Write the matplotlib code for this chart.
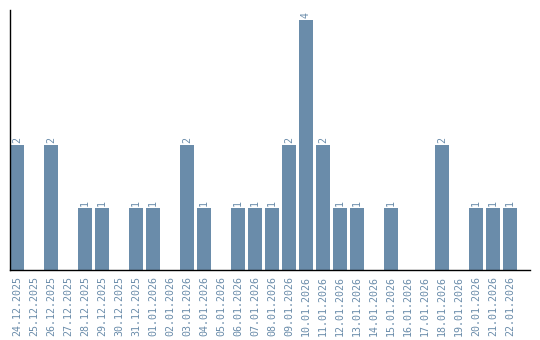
import matplotlib
matplotlib.use("Agg")
import matplotlib.pyplot as plt

# Daily counts
dates = ["24.12.2025", "25.12.2025", "26.12.2025", "27.12.2025", "28.12.2025",
         "29.12.2025", "30.12.2025", "31.12.2025", "01.01.2026", "02.01.2026",
         "03.01.2026", "04.01.2026", "05.01.2026", "06.01.2026", "07.01.2026",
         "08.01.2026", "09.01.2026", "10.01.2026", "11.01.2026", "12.01.2026",
         "13.01.2026", "14.01.2026", "15.01.2026", "16.01.2026", "17.01.2026",
         "18.01.2026", "19.01.2026", "20.01.2026", "21.01.2026", "22.01.2026"]
counts = [2, 0, 2, 0, 1, 1, 0, 1, 1, 0,
          2, 1, 0, 1, 1, 1, 2, 4, 2, 1,
          1, 0, 1, 0, 0, 2, 0, 1, 1, 1]

bar_color = "#6a8caa"
text_color = "#6a8caa"

fig = plt.figure(figsize=(5.4, 3.4), dpi=100)
ax = fig.add_axes([10 / 540, 70 / 340, 520 / 540, 260 / 340])

x = list(range(len(dates)))
ax.bar(x, counts, width=14 / 17, color=bar_color)

for xi, v in zip(x, counts):
    if v > 0:
        ax.text(xi, v + 0.03, str(v), rotation=90, ha="center", va="bottom",
                color=text_color, fontsize=7.2, family="DejaVu Sans Mono")

ax.set_xlim(-7 / 17, -7 / 17 + 520 / 17)
ax.set_ylim(0, 260 / 62.5)
ax.set_xticks(x)
ax.set_xticklabels(dates, rotation=90, color=text_color, fontsize=7.2,
                   family="DejaVu Sans Mono")
ax.tick_params(axis="x", length=0, pad=4)
ax.set_yticks([])
for s in ["top", "right"]:
    ax.spines[s].set_visible(False)
ax.spines["left"].set_linewidth(1)
ax.spines["bottom"].set_linewidth(1)

fig.savefig("out.png", dpi=100)
